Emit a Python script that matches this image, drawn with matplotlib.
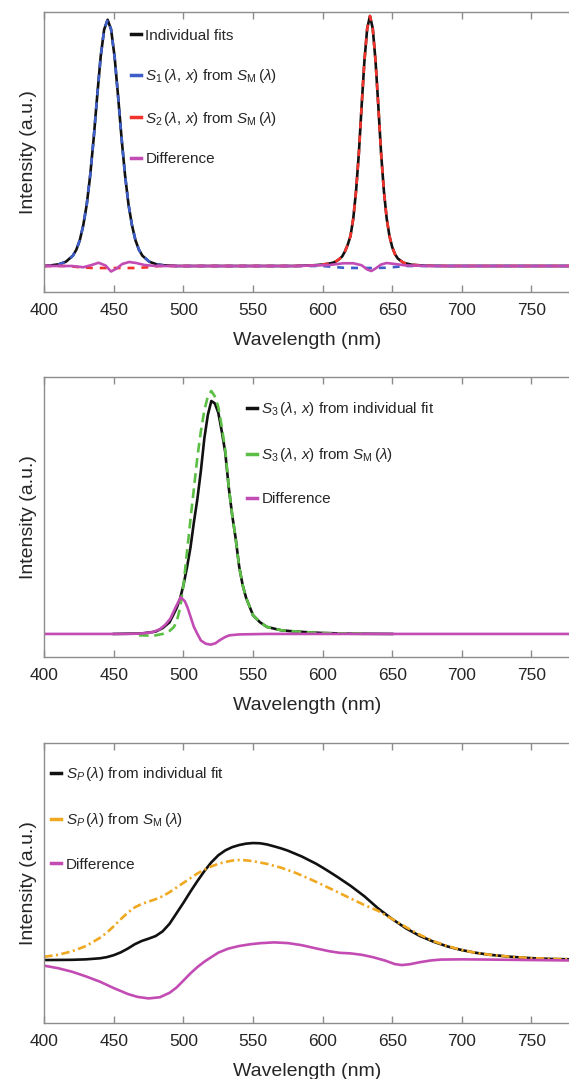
import matplotlib
matplotlib.use("Agg")
import matplotlib.pyplot as plt
from matplotlib.lines import Line2D

plt.rcParams['font.family'] = ['Liberation Sans', 'DejaVu Sans']
plt.rcParams['mathtext.fontset'] = 'custom'
plt.rcParams['mathtext.rm'] = 'Liberation Sans'
plt.rcParams['mathtext.it'] = 'Liberation Sans:italic'
plt.rcParams['mathtext.bf'] = 'Liberation Sans:bold'
plt.rcParams['lines.scale_dashes'] = False

TEXT = '#262626'
SPINE = '#8c8c8c'
BLACK = '#111111'
BLUE = '#3d5ec8'
RED = '#f2332b'
MAGENTA = '#c24cb4'
GREEN = '#5cbf45'
ORANGE = '#f0a820'

# ---- panel 1: blue + red LEDs ----
# blue peak
wl_b = [400, 405.5, 410.5, 415.5, 420.5, 423, 425.5, 428, 430.5, 433,
        435.5, 438, 440.5, 443, 445.5, 448, 450.5, 453, 455.5, 458,
        460.5, 463, 465.5, 468, 470.5, 475.5, 480.5, 485.5, 495, 580]
blue_vals = [0, 0.003, 0.007, 0.017, 0.041, 0.065, 0.103, 0.163, 0.246, 0.364,
             0.512, 0.68, 0.837, 0.946, 0.985, 0.946, 0.837, 0.68, 0.512, 0.364,
             0.246, 0.163, 0.103, 0.065, 0.041, 0.017, 0.007, 0.003, 0, 0]
# red peak
wl_r = [590, 594, 600, 604, 608, 610, 612, 614, 616, 618,
        620, 622, 624, 626, 628, 630, 632, 634, 636, 638,
        640, 642, 644, 646, 648, 650, 652, 654, 658, 664,
        674, 690, 780]
red_vals = [0.002, 0.003, 0.006, 0.009, 0.014, 0.02, 0.028, 0.038, 0.058, 0.085,
            0.12, 0.19, 0.30, 0.45, 0.64, 0.82, 0.95, 1.0, 0.95, 0.82,
            0.64, 0.45, 0.30, 0.19, 0.12, 0.075, 0.047, 0.03, 0.013, 0.005,
            0.001, 0, 0]

# S1 / S2 from the mixed spectrum: small negative lobes under the other peak
wl_s1_tail = [600, 608, 615, 625, 635, 645, 652, 660, 780]
s1_tail = [0, -0.004, -0.007, -0.008, -0.008, -0.007, -0.004, 0, 0]
wl_s2_tail = [400, 418, 425, 435, 450, 465, 475, 482, 580]
s2_tail = [0, 0, -0.005, -0.008, -0.008, -0.008, -0.005, 0, 0]

wl_diff1 = [400, 420, 428, 434, 439, 444, 448, 452, 456, 461,
            466, 472, 480, 500, 580, 605, 615, 622, 628, 632,
            635, 638, 642, 646, 652, 660, 680, 780]
diff1_vals = [0, 0, -0.005, 0.004, 0.013, 0.002, -0.022, -0.01, 0.008, 0.016,
              0.012, 0.004, 0, 0, 0, 0.004, 0.011, 0.011, 0.003, -0.014,
              -0.02, -0.01, 0.006, 0.012, 0.008, 0.002, 0, 0]

# ---- panel 2: green component ----
wl_s3 = [450, 470, 480, 485, 490, 493, 495, 497.5, 500, 502.5,
         505, 507.5, 510, 512.5, 515, 517.5, 520, 522.5, 525, 527.5,
         530, 532.5, 535, 537.5, 540, 542.5, 545, 550, 555, 560,
         570, 577, 590, 600, 620, 650]
s3_fit_vals = [0, 0.002, 0.01, 0.025, 0.05, 0.086, 0.11, 0.15, 0.21, 0.285,
               0.37, 0.48, 0.58, 0.70, 0.84, 0.94, 1.0, 0.99, 0.95, 0.87,
               0.78, 0.63, 0.51, 0.41, 0.29, 0.21, 0.155, 0.08, 0.05, 0.03,
               0.016, 0.012, 0.007, 0.004, 0.001, 0]

wl_s3_m = [468, 475, 480, 485, 488, 490, 493, 495, 497.5, 500,
           502.5, 505, 507.5, 510, 512.5, 515, 517.5, 520, 522.5, 525,
           527.5, 530, 532.5, 535, 537.5, 540, 542.5, 545, 550, 555,
           560, 570, 580, 590, 600, 615, 630]
s3_m_vals = [-0.006, -0.007, -0.006, 0.0, 0.007, 0.013, 0.029, 0.05, 0.11, 0.21,
             0.35, 0.49, 0.625, 0.76, 0.87, 0.96, 1.02, 1.043, 1.02, 0.975,
             0.89, 0.79, 0.635, 0.51, 0.41, 0.29, 0.21, 0.155, 0.08, 0.05,
             0.03, 0.016, 0.011, 0.007, 0.004, 0.002, 0.001]

wl_diff2 = [400, 460, 470, 478, 483, 487, 490.5, 494, 498, 501,
            503, 505, 507.5, 510, 512.5, 516, 519.5, 523, 526, 530,
            533, 540, 560, 780]
diff2_vals = [0, 0, 0.002, 0.008, 0.02, 0.04, 0.065, 0.11, 0.158, 0.14,
              0.112, 0.075, 0.03, 0.0, -0.028, -0.042, -0.046, -0.04, -0.027, -0.013,
              -0.006, -0.002, 0, 0]

# ---- panel 3: phosphor ----
wl_sp = [400, 420, 430, 440, 445, 450, 455, 460, 465, 470,
         475, 480, 485, 490, 495, 500, 505, 510, 515, 520,
         525, 530, 535, 540, 545, 550, 555, 560, 565, 570,
         575, 580, 585, 590, 595, 600, 605, 610, 620, 630,
         640, 650, 660, 670, 680, 690, 700, 710, 720, 735,
         750, 765, 780]
sp_fit_vals = [0, 0.002, 0.006, 0.015, 0.025, 0.042, 0.066, 0.098, 0.135, 0.163,
               0.183, 0.205, 0.245, 0.31, 0.40, 0.49, 0.585, 0.675, 0.76, 0.835,
               0.895, 0.937, 0.965, 0.983, 0.995, 1.0, 0.998, 0.988, 0.972, 0.955,
               0.935, 0.91, 0.885, 0.855, 0.825, 0.79, 0.753, 0.715, 0.635, 0.545,
               0.44, 0.35, 0.27, 0.205, 0.155, 0.115, 0.085, 0.062, 0.045, 0.028,
               0.016, 0.009, 0.006]

wl_sp_m = [400, 410, 420, 430, 440, 445, 450, 455, 460, 465,
           470, 475, 480, 485, 490, 495, 500, 505, 510, 515,
           520, 525, 530, 535, 540, 545, 550, 560, 570, 580,
           590, 600, 610, 620, 630, 640, 650, 660, 670, 680,
           690, 700, 710, 720, 735, 750, 765, 780]
sp_m_vals = [0.028, 0.045, 0.075, 0.12, 0.19, 0.235, 0.29, 0.35, 0.405, 0.45,
             0.48, 0.50, 0.52, 0.545, 0.58, 0.62, 0.66, 0.70, 0.74, 0.772,
             0.80, 0.822, 0.838, 0.85, 0.855, 0.852, 0.845, 0.822, 0.79, 0.748,
             0.697, 0.642, 0.585, 0.527, 0.47, 0.42, 0.35, 0.28, 0.215, 0.16,
             0.118, 0.086, 0.062, 0.045, 0.028, 0.017, 0.01, 0.006]

wl_diff3 = [400, 410, 420, 430, 440, 450, 460, 467, 475, 483,
            490, 495, 500, 505, 510, 515, 520, 525, 532, 540,
            548, 555, 565, 575, 585, 595, 605, 612, 620, 628,
            636, 645, 652, 657, 663, 670, 678, 685, 700, 720,
            750, 780]
diff3_vals = [-0.048, -0.07, -0.10, -0.14, -0.185, -0.24, -0.29, -0.315, -0.328, -0.318,
              -0.28, -0.235, -0.175, -0.114, -0.06, -0.014, 0.025, 0.063, 0.097, 0.12,
              0.135, 0.144, 0.151, 0.145, 0.127, 0.10, 0.075, 0.062, 0.057, 0.045,
              0.025, -0.005, -0.035, -0.043, -0.035, -0.018, -0.003, 0.004, 0.006, 0.004,
              0.0, -0.004]


def style_axes(ax, ylim):
    ax.set_xlim(400, 777)
    ax.set_ylim(*ylim)
    ax.set_xticks(range(400, 800, 50))
    ax.set_yticks([])
    ax.tick_params(axis='x', direction='in', top=True, length=5, width=1,
                   color=SPINE, labelsize=12.5, labelcolor=TEXT, pad=8)
    ax.spines['right'].set_visible(False)
    for s in ('left', 'top', 'bottom'):
        ax.spines[s].set_color(SPINE)
        ax.spines[s].set_linewidth(1)
    ax.set_xlabel('Wavelength (nm)', fontsize=14, color=TEXT, labelpad=10)
    ax.set_ylabel('Intensity (a.u.)', fontsize=14, color=TEXT, labelpad=5)


def add_legend(ax, colors, labels, anchor, spacing):
    handles = [Line2D([], [], color=c, lw=2.5) for c in colors]
    leg = ax.legend(handles, labels, loc='upper left', bbox_to_anchor=anchor,
                    frameon=False, fontsize=11, handlelength=0.65,
                    handletextpad=0.3, labelspacing=spacing, borderpad=0,
                    borderaxespad=0)
    for t in leg.get_texts():
        t.set_color(TEXT)


fig = plt.figure(figsize=(5.69, 10.79), dpi=100)
left = 44.3 / 569
width = 1 - left
h = 280 / 1079
ax1 = fig.add_axes([left, 1 - 292 / 1079, width, h])
ax2 = fig.add_axes([left, 1 - 657 / 1079, width, h])
ax3 = fig.add_axes([left, 1 - 1023 / 1079, width, h])

lw = 1.9

# individual fits = both peaks as one black trace; S1 / S2 dashed on top
ax1.plot(wl_b + wl_r, blue_vals + red_vals, color=BLACK, lw=lw)
ax1.plot(wl_b + wl_s1_tail, blue_vals + s1_tail, color=BLUE, lw=lw, dashes=(5, 5))
ax1.plot(wl_s2_tail + wl_r, s2_tail + red_vals, color=RED, lw=lw, dashes=(5, 5))
ax1.plot(wl_diff1, diff1_vals, color=MAGENTA, lw=lw)
style_axes(ax1, (-0.104, 1.016))
add_legend(ax1, [BLACK, BLUE, RED, MAGENTA],
           ['Individual fits',
            r'$S_1\,(\lambda,\,x)$ from $S_\mathrm{M}\,(\lambda)$',
            r'$S_2\,(\lambda,\,x)$ from $S_\mathrm{M}\,(\lambda)$',
            'Difference'],
           (0.165, 0.94), 1.6)

ax2.plot(wl_s3, s3_fit_vals, color=BLACK, lw=lw)
ax2.plot(wl_s3_m, s3_m_vals, color=GREEN, lw=lw, dashes=(7, 4))
ax2.plot(wl_diff2, diff2_vals, color=MAGENTA, lw=lw)
style_axes(ax2, (-0.099, 1.103))
add_legend(ax2, [BLACK, GREEN, MAGENTA],
           [r'$S_3\,(\lambda,\,x)$ from individual fit',
            r'$S_3\,(\lambda,\,x)$ from $S_\mathrm{M}\,(\lambda)$',
            'Difference'],
           (0.386, 0.918), 1.85)

ax3.plot(wl_sp, sp_fit_vals, color=BLACK, lw=lw)
ax3.plot(wl_sp_m, sp_m_vals, color=ORANGE, lw=lw, dashes=(6, 2.5, 1.5, 2.5))
ax3.plot(wl_diff3, diff3_vals, color=MAGENTA, lw=lw)
style_axes(ax3, (-0.538, 1.855))
add_legend(ax3, [BLACK, ORANGE, MAGENTA],
           [r'$S_P\,(\lambda)$ from individual fit',
            r'$S_P\,(\lambda)$ from $S_\mathrm{M}\,(\lambda)$',
            'Difference'],
           (0.013, 0.921), 1.85)

fig.savefig('out.png', dpi=100)
